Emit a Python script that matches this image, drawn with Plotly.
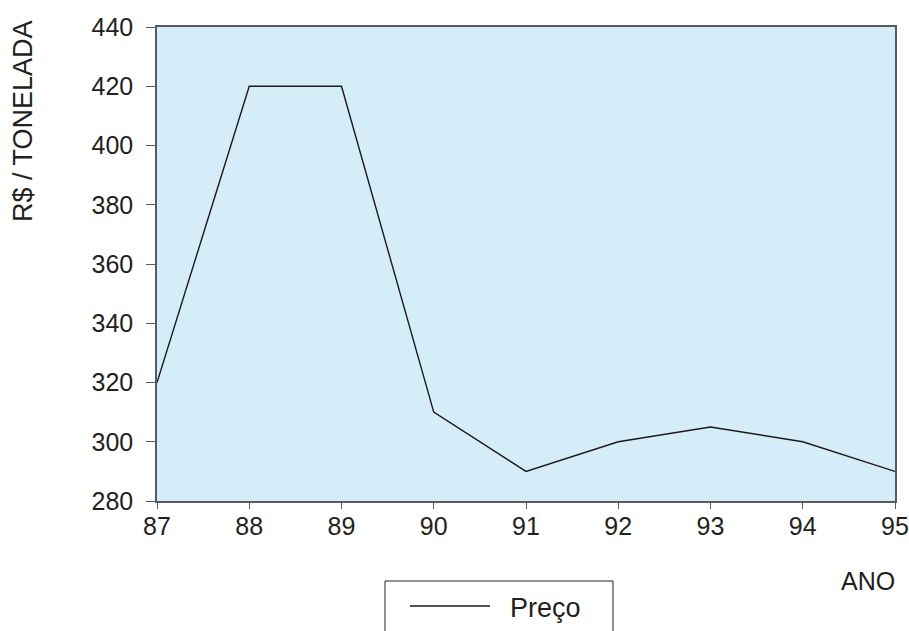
import plotly.graph_objects as go

anos = [87, 88, 89, 90, 91, 92, 93, 94, 95]
preco = [320, 420, 420, 310, 290, 300, 305, 300, 290]
y_ticks = [280, 300, 320, 340, 360, 380, 400, 420, 440]

W, H = 909, 631
L, R, T, B = 157, 14, 27, 130
pw, ph = W - L - R, H - T - B

def px_x(p):
    return (p - L) / pw

def px_y(p):
    return (H - B - p) / ph

font = "Liberation Sans, Arial, sans-serif"
ink = "#231f20"

fig = go.Figure()
fig.add_trace(go.Scatter(x=anos, y=preco, mode="lines", name="\u00a0\u00a0Preço",
                         line=dict(color="#1a1a1a", width=1.4)))

fig.update_layout(
    width=W, height=H,
    margin=dict(l=L, r=R, t=T, b=B, autoexpand=False),
    paper_bgcolor="white",
    plot_bgcolor="#D5ECF9",
    font=dict(family=font, size=25, color=ink),
    showlegend=True,
    legend=dict(x=px_x(405), y=px_y(582), xanchor="left", yanchor="top",
                bgcolor="rgba(0,0,0,0)", borderwidth=0, itemwidth=80,
                font=dict(size=27, family=font, color=ink)),
    xaxis=dict(range=[87, 95], tickvals=anos, ticktext=[str(a) for a in anos],
               showgrid=False, zeroline=False, showline=True, mirror=True,
               linecolor="#5a5a5a", linewidth=1.5, ticks="outside", ticklen=6,
               tickcolor="#5a5a5a", tickwidth=1, tickfont=dict(size=25),
               ticklabelstandoff=-4, automargin=False),
    yaxis=dict(range=[280, 440], tickvals=y_ticks, showgrid=False, zeroline=False,
               showline=True, mirror=True, linecolor="#5a5a5a", linewidth=1.5,
               ticks="outside", ticklen=9, tickcolor="#5a5a5a", tickwidth=1,
               tickfont=dict(size=25), ticklabelstandoff=8, automargin=False),
    shapes=[dict(type="rect", xref="paper", yref="paper",
                 x0=px_x(385), x1=px_x(613), y0=px_y(581), y1=px_y(650),
                 line=dict(color=ink, width=1), fillcolor="rgba(0,0,0,0)")],
    annotations=[
        dict(text="R$ / TONELADA", xref="paper", yref="paper",
             x=px_x(23), y=px_y(121), showarrow=False, textangle=-90,
             font=dict(size=27), xanchor="center", yanchor="middle"),
        dict(text="ANO", xref="paper", yref="paper",
             x=px_x(868), y=px_y(581), showarrow=False,
             font=dict(size=25), xanchor="center", yanchor="middle"),
    ],
)

fig.write_html("out.html", config={"displayModeBar": False},
               post_script="document.body.style.margin='0px';document.body.style.overflow='hidden';")
